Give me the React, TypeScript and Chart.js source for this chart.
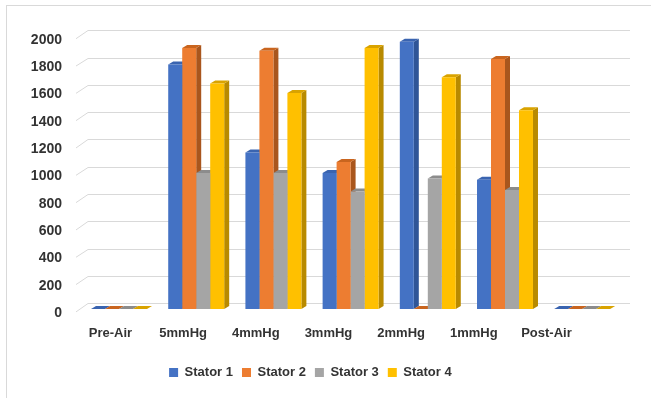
import React, { useEffect, useRef } from "react";
import { Chart, registerables } from "chart.js";

Chart.register(...registerables);

// ---- data ----
const CATEGORIES = ["Pre-Air", "5mmHg", "4mmHg", "3mmHg", "2mmHg", "1mmHg", "Post-Air"];
const SERIES_NAMES = ["Stator 1", "Stator 2", "Stator 3", "Stator 4"];
const STATOR_1 = [0, 1790, 1145, 995, 1955, 945, 0];
const STATOR_2 = [0, 1910, 1890, 1075, 0, 1830, 0];
const STATOR_3 = [0, 995, 995, 860, 955, 870, 0];
const STATOR_4 = [0, 1650, 1580, 1910, 1695, 1455, 0];
const Y_TICKS = [0, 200, 400, 600, 800, 1000, 1200, 1400, 1600, 1800, 2000];
const Y_MAX = 2000;

// ---- style ----
const FRONT = ["#4472C4", "#ED7D31", "#A5A5A5", "#FFC000"];
const SIDE = ["#2F5597", "#A9561D", "#7B7B7B", "#B88A00"];
const TOPF = ["#3A64B0", "#C9651F", "#8C8C8C", "#D9A300"];
const DX = 5;
const DY = 3;
const GRID = "#D9D9D9";
const TEXT = "#333333";
const FONT = "'Liberation Sans', Arial, sans-serif";

const depthPlugin = {
  id: "depth3d",
  beforeDatasetsDraw(chart: any) {
    const { ctx, chartArea } = chart;
    const yS = chart.scales.y;
    ctx.save();
    // perspective gridlines on the back wall
    ctx.strokeStyle = GRID;
    ctx.lineWidth = 1;
    for (const v of Y_TICKS) {
      const py = yS.getPixelForValue(v);
      const back = Math.round(py - 5.5) + 0.5;
      const front = py + 3;
      ctx.beginPath();
      ctx.moveTo(chartArea.left - 4.4, front);
      ctx.lineTo(chartArea.left + 7.6, back);
      ctx.lineTo(chartArea.right + 9.2, back);
      ctx.stroke();
    }
    // side and top faces of bars
    chart.data.datasets.forEach((_: any, di: number) => {
      const meta = chart.getDatasetMeta(di);
      meta.data.forEach((el: any) => {
        const { x, y, base, width } = el.getProps(["x", "y", "base", "width"], true);
        const l = x - width / 2;
        const r = x + width / 2;
        const top = Math.min(y, base);
        const bot = Math.max(y, base);
        ctx.fillStyle = SIDE[di];
        ctx.beginPath();
        ctx.moveTo(r, top);
        ctx.lineTo(r + DX, top - DY);
        ctx.lineTo(r + DX, bot - DY);
        ctx.lineTo(r, bot);
        ctx.closePath();
        ctx.fill();
        ctx.fillStyle = TOPF[di];
        ctx.beginPath();
        ctx.moveTo(l, top);
        ctx.lineTo(l + DX, top - DY);
        ctx.lineTo(r + DX, top - DY);
        ctx.lineTo(r, top);
        ctx.closePath();
        ctx.fill();
      });
    });
    ctx.restore();
  },
};

export default function App() {
  const ref = useRef<HTMLCanvasElement>(null);
  useEffect(() => {
    const series = [STATOR_1, STATOR_2, STATOR_3, STATOR_4];
    const chart = new Chart(ref.current as HTMLCanvasElement, {
      type: "bar",
      data: {
        labels: CATEGORIES,
        datasets: series.map((d, i) => ({
          label: SERIES_NAMES[i],
          data: d,
          backgroundColor: FRONT[i],
          borderWidth: 0,
          categoryPercentage: 0.725,
          barPercentage: 1,
        })),
      },
      options: {
        animation: false,
        responsive: false,
        devicePixelRatio: 1,
        layout: { padding: { left: 0, right: 30.2, top: 35.7, bottom: 9 } },
        font: { family: FONT },
        plugins: {
          tooltip: { enabled: false },
          legend: {
            position: "bottom",
            labels: {
              boxWidth: 9,
              boxHeight: 9,
              padding: 9,
              color: TEXT,
              font: { family: FONT, size: 13, weight: "bold" },
            },
          },
        },
        scales: {
          x: { type: "category", display: false, offset: true },
          y: { type: "linear", display: false, min: -30, max: Y_MAX },
          x2: {
            type: "linear",
            position: "bottom",
            bounds: "data",
            offset: false,
            min: -0.414,
            max: 7.023,
            grid: { display: false, drawTicks: false, offset: false },
            border: { display: false },
            afterBuildTicks: (s: any) => {
              s.ticks = CATEGORIES.map((_, i) => ({ value: i }));
            },
            ticks: {
              autoSkip: false,
              maxRotation: 0,
              padding: 12.2,
              color: TEXT,
              font: { family: FONT, size: 13, weight: "bold" },
              callback: (v: any) => CATEGORIES[v] ?? "",
            },
            afterFit: (s: any) => {
              s.height = 44;
            },
          },
          y2: {
            type: "linear",
            position: "left",
            bounds: "data",
            min: 0,
            max: Y_MAX + 30,
            grid: { display: false, drawTicks: false },
            border: { display: false },
            afterBuildTicks: (s: any) => {
              s.ticks = Y_TICKS.map((v) => ({ value: v }));
            },
            ticks: {
              autoSkip: false,
              padding: 18.4,
              color: TEXT,
              font: { family: FONT, size: 14, weight: "bold" },
              callback: (v: any) => String(v),
            },
            afterFit: (s: any) => {
              s.width = 80.4;
            },
          },
        },
      } as any,
      plugins: [depthPlugin],
    });
    return () => chart.destroy();
  }, []);
  return (
    <div style={{ position: "fixed", left: 0, top: 0, width: 651, height: 398, background: "#fff" }}>
      <div
        style={{
          position: "absolute",
          left: 6,
          top: 5,
          right: 0,
          bottom: 0,
          borderLeft: "1px solid #D9D9D9",
          borderTop: "1px solid #D9D9D9",
        }}
      />
      <canvas
        ref={ref}
        width={651}
        height={398}
        style={{ position: "absolute", left: 0, top: 0, width: 651, height: 398 }}
      />
    </div>
  );
}
